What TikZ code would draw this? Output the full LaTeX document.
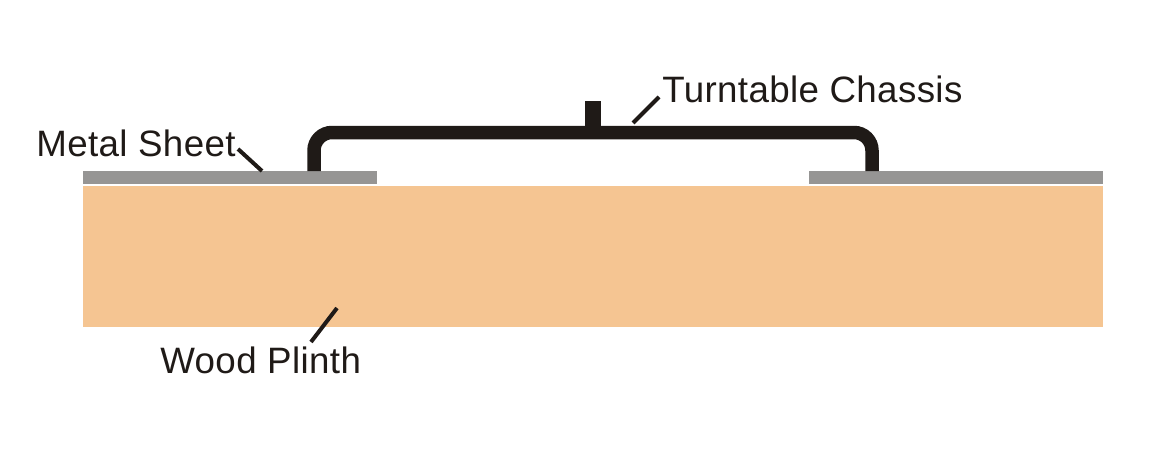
\documentclass[tikz,border=0pt]{standalone}
\usepackage{fontspec}
\setmainfont[LetterSpace=1.0]{Liberation Sans}
\usetikzlibrary{positioning}
\definecolor{plinthcolor}{HTML}{F5C592}
\definecolor{sheetcolor}{HTML}{969594}
\definecolor{inkcolor}{HTML}{1F1A17}
\begin{document}
\begin{tikzpicture}[x=0.02cm,y=-0.02cm,
    label node/.style={anchor=base west,inner sep=0pt,text=inkcolor,font=\fontsize{20.9}{24}\selectfont},
    leader/.style={draw=inkcolor,line width=0.08cm},
    chassis/.style={draw=inkcolor,line width=0.27cm,rounded corners=0.36cm}]
    \useasboundingbox (0,0) rectangle (1150,457);

    % plinth and the two sheets
    \fill[plinthcolor] (83,186) rectangle (1103,327);
    \fill[sheetcolor] (83,171) rectangle (377,184);
    \fill[sheetcolor] (809,171) rectangle (1103,184);

    % chassis
    \draw[chassis] (314,171) -- (314,132.5) -- (872,132.5) -- (872,171);
    \fill[inkcolor] (585,101) rectangle (601,127);

    \node[label node] (metal) at (36,156) {Metal Sheet};
    \node[label node] (turntable) at (662,102) {Turntable Chassis};
    \node[label node] (wood) at (160,373) {Wood Plinth};

    \coordinate (metalfrom) at (238,149);
    \coordinate (metalto) at (262,171);
    \coordinate (turntablefrom) at (659,97);
    \coordinate (turntableto) at (633,123);
    \coordinate (woodfrom) at (311,342);
    \coordinate (woodto) at (337,308);

    \path[leader]
    (metalfrom) edge (metalto)
    (turntablefrom) edge (turntableto)
    (woodfrom) edge (woodto);
\end{tikzpicture}
\end{document}
